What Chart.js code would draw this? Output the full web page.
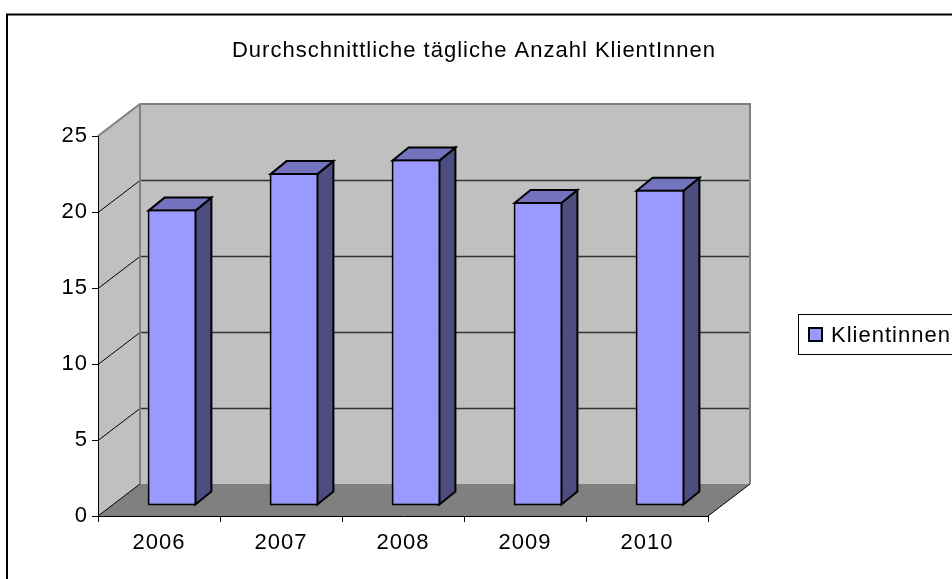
<!DOCTYPE html>
<html>
<head>
<meta charset="utf-8">
<title>Durchschnittliche tägliche Anzahl KlientInnen</title>
<script src="https://cdn.jsdelivr.net/npm/chart.js@4.4.1/dist/chart.umd.min.js"></script>
<style>
    html, body { margin: 0; padding: 0; background: #fff; }
    #wrap { width: 952px; height: 579px; }
</style>
</head>
<body>
<div id="wrap"><canvas id="klientChart" width="952" height="579"></canvas></div>
<script>
// Chart data
const chartTitle = 'Durchschnittliche tägliche Anzahl KlientInnen';
const seriesLabel = 'Klientinnen';
const years = ['2006', '2007', '2008', '2009', '2010'];
const klientinnen = [19.5, 21.9, 22.8, 20.0, 20.8];
const yTicks = [0, 5, 10, 15, 20, 25];

// 3D look (Excel style)
const DEPTH = { x: 42, y: -32 };      // offset of the back wall
const BAR_SHIFT = { x: 13, y: -10 };  // where the bar front sits inside the depth
const BAR_DEPTH = { x: 16, y: -13 };  // thickness of a bar
const FONT = "'Liberation Sans', Arial, sans-serif";
const FONT_SIZE = 22;
const SPACING = '1px';
const FRONT_COLOR = '#9999ff';
const TOP_COLOR = '#7373bf';
const SIDE_COLOR = '#4d4d80';

function poly(ctx, pts) {
    ctx.beginPath();
    ctx.moveTo(pts[0][0], pts[0][1]);
    for (let i = 1; i < pts.length; i++) ctx.lineTo(pts[i][0], pts[i][1]);
    ctx.closePath();
}

function line(ctx, x1, y1, x2, y2) {
    ctx.beginPath();
    ctx.moveTo(x1, y1);
    ctx.lineTo(x2, y2);
    ctx.stroke();
}

// Walls, floor, bar sides, title and legend
const chart3d = {
    id: 'chart3d',
    beforeDraw(chart) {
        const ctx = chart.ctx;
        const { left, right } = chart.chartArea;
        const y = chart.scales.y;
        const top = y.getPixelForValue(yTicks[yTicks.length - 1]);
        const bottom = y.getPixelForValue(yTicks[0]);
        const bx = left + DEPTH.x, br = right + DEPTH.x;
        const bt = top + DEPTH.y, bb = bottom + DEPTH.y;

        ctx.save();
        ctx.fillStyle = '#fff';
        ctx.fillRect(0, 0, chart.width, chart.height);

        // outer frame (runs off the right and bottom edge)
        ctx.strokeStyle = '#000';
        ctx.lineWidth = 2;
        ctx.strokeRect(7, 14.5, chart.width + 20, chart.height + 20);

        // back wall + left wall
        ctx.fillStyle = '#c0c0c0';
        ctx.fillRect(bx, bt, br - bx, bb - bt);
        poly(ctx, [[left, top], [bx, bt], [bx, bb], [left, bottom]]);
        ctx.fill();

        // floor
        ctx.fillStyle = '#808080';
        poly(ctx, [[left, bottom], [right, bottom], [br, bb], [bx, bb]]);
        ctx.fill();

        // gridlines
        yTicks.slice(1, -1).forEach(v => {
            const py = Math.round(y.getPixelForValue(v)) + 0.5;
            ctx.strokeStyle = '#000';
            ctx.lineWidth = 1;
            line(ctx, left, py, bx, py + DEPTH.y);
            ctx.strokeStyle = '#333';
            ctx.lineWidth = 1.5;
            line(ctx, bx, py + DEPTH.y, br, py + DEPTH.y);
        });

        // wall edges
        ctx.strokeStyle = '#808080';
        ctx.lineWidth = 2;
        ctx.beginPath();
        ctx.moveTo(left, top);
        ctx.lineTo(bx, bt);
        ctx.lineTo(br, bt);
        ctx.lineTo(br, bb);
        ctx.stroke();
        line(ctx, bx, bt, bx, bb);

        // floor diagonals
        ctx.strokeStyle = '#000';
        ctx.lineWidth = 1;
        line(ctx, left, bottom, bx, bb);
        line(ctx, right, bottom, br, bb);
        ctx.restore();

        ctx.letterSpacing = SPACING;
    },
    beforeDatasetsDraw(chart) {
        const ctx = chart.ctx;
        ctx.save();
        ctx.translate(BAR_SHIFT.x, BAR_SHIFT.y);
        ctx.strokeStyle = '#000';
        ctx.lineWidth = 2;
        ctx.lineJoin = 'miter';
        chart.getDatasetMeta(0).data.forEach(bar => {
            const p = bar.getProps(['x', 'y', 'base', 'width'], true);
            const l = p.x - p.width / 2 + 1;
            const r = p.x + p.width / 2 - 1;
            const t = p.y + 1;
            const b = p.base - 1;
            // side face
            ctx.fillStyle = SIDE_COLOR;
            poly(ctx, [[r, t], [r + BAR_DEPTH.x, t + BAR_DEPTH.y], [r + BAR_DEPTH.x, b + BAR_DEPTH.y], [r, b]]);
            ctx.fill();
            ctx.stroke();
            // top face
            ctx.fillStyle = TOP_COLOR;
            poly(ctx, [[l, t], [l + BAR_DEPTH.x, t + BAR_DEPTH.y], [r + BAR_DEPTH.x, t + BAR_DEPTH.y], [r, t]]);
            ctx.fill();
            ctx.stroke();
        });
    },
    afterDatasetsDraw(chart) {
        chart.ctx.restore();
    },
    afterDraw(chart) {
        const ctx = chart.ctx;
        ctx.save();
        ctx.letterSpacing = SPACING;
        ctx.fillStyle = '#000';
        ctx.font = FONT_SIZE + 'px ' + FONT;

        // title
        ctx.textAlign = 'center';
        ctx.textBaseline = 'alphabetic';
        ctx.fillText(chartTitle, 474, 57);

        // legend
        ctx.strokeStyle = '#000';
        ctx.lineWidth = 1;
        ctx.strokeRect(798.5, 314.5, 300, 40);
        ctx.fillStyle = FRONT_COLOR;
        ctx.fillRect(809, 328, 13, 13);
        ctx.lineWidth = 2;
        ctx.strokeRect(809, 328, 13, 13);
        ctx.fillStyle = '#000';
        ctx.textAlign = 'left';
        ctx.fillText(chart.data.datasets[0].label, 831, 342);
        ctx.restore();
        ctx.letterSpacing = '0px';
    }
};

const ctx = document.getElementById('klientChart');
new Chart(ctx, {
    type: 'bar',
    data: {
        labels: years,
        datasets: [
            {
                label: seriesLabel,
                data: klientinnen,
                backgroundColor: FRONT_COLOR,
                borderColor: '#000',
                borderWidth: 2,
                borderSkipped: false,
                categoryPercentage: 1,
                barPercentage: 0.4,
                clip: false
            }
        ]
    },
    options: {
        responsive: false,
        animation: false,
        events: [],
        layout: {
            padding: { top: 136, right: 244, left: 0, bottom: 0 }
        },
        plugins: {
            legend: { display: false },
            title: { display: false },
            tooltip: { enabled: false }
        },
        scales: {
            x: {
                grid: {
                    drawOnChartArea: false,
                    drawTicks: true,
                    tickLength: 6,
                    color: '#000',
                    offset: true
                },
                border: { display: true, color: '#000', width: 1 },
                ticks: {
                    color: '#000',
                    font: { family: FONT, size: FONT_SIZE },
                    padding: 8,
                    maxRotation: 0,
                    autoSkip: false
                },
                afterFit(scale) { scale.height = 63; }
            },
            y: {
                min: yTicks[0],
                max: yTicks[yTicks.length - 1],
                ticks: {
                    stepSize: yTicks[1] - yTicks[0],
                    color: '#000',
                    font: { family: FONT, size: FONT_SIZE },
                    padding: 4
                },
                grid: {
                    drawOnChartArea: false,
                    drawTicks: true,
                    tickLength: 6,
                    color: '#000'
                },
                border: { display: true, color: '#000', width: 1 },
                afterFit(scale) { scale.width = 98; }
            }
        }
    },
    plugins: [chart3d]
});
</script>
</body>
</html>
